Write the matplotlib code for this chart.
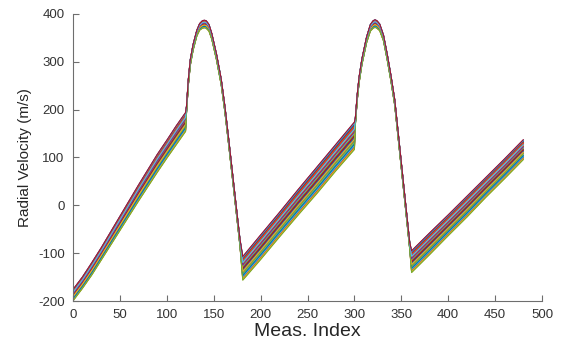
"""
Radial velocity of every run against measurement index.
Run: python3 plot.py
"""

import numpy as np
import matplotlib.pyplot as plt

plt.rcParams["font.family"] = ["Liberation Sans", "DejaVu Sans"]
plt.rcParams["axes.unicode_minus"] = False

# ── Data ─────────────────────────────────────────────────────────────────────
# measurement index of the key points
meas_idx = [0, 10, 20, 30, 40, 50, 60, 70, 80, 90, 100, 110, 120,
            121, 123, 125, 128, 132, 135, 138, 140, 142, 145, 148, 153, 158, 162, 166, 170, 174, 178,
            181, 200, 220, 240, 260, 280, 300,
            301, 303, 305, 308, 313, 317, 320, 322, 324, 327, 331, 335, 339, 343, 347, 351, 355, 359,
            361, 380, 400, 420, 440, 460, 480]
# middle of the bundle of runs (m/s)
vel_mid = [-188, -162, -133, -102, -70, -38, -6, 26, 57, 88, 117, 146, 174,
           200, 258, 298, 330, 360, 373, 378, 379, 378, 371, 353, 310, 258, 200, 132, 62, -8, -78,
           -132, -88, -41, 6, 52, 99, 145,
           175, 225, 262, 300, 346, 371, 378, 380, 378, 372, 350, 310, 265, 215, 140, 65, -10, -85,
           -118, -81, -42, -3, 37, 76, 116]
# half height of the bundle (m/s)
vel_half = [12, 12, 13, 13, 14, 15, 16, 17, 18, 19, 19, 20, 20,
            7, 6, 6, 6, 6, 7, 8, 8, 8, 7, 6, 6, 6, 6, 6, 6, 6, 7,
            25, 26, 26, 27, 28, 28, 29,
            7, 6, 6, 6, 6, 7, 8, 8, 8, 7, 6, 6, 6, 6, 6, 6, 6, 7,
            23, 23, 22, 22, 21, 21, 21]
# where each run sits in the bundle (-1 bottom, +1 top)
run_pos = [0.92, -0.35, 0.15, -0.88, 0.55, -0.10, 0.70, -0.62, 0.30, -0.95, 0.05,
           0.80, -0.45, 0.40, -0.75, 0.62, -0.20, 0.98, -0.55, 0.22, -0.05, 0.85,
           -0.80, 0.45, -0.30, 0.10, -0.68, 0.75, -0.15, 0.35, -0.90, 0.58, -0.40,
           0.95, 0.00, -0.60, 0.68, -0.25, 0.28, -0.98, 0.50, 1.00]

matlab_colors = ["#0072BD", "#D95319", "#EDB120", "#7E2F8E",
                 "#77AC30", "#4DBEEE", "#A2142F"]

# ── Figure ───────────────────────────────────────────────────────────────────
fig = plt.figure(figsize=(5.63, 3.41), dpi=100)
ax = fig.add_axes([73 / 563, 40 / 341, 469 / 563, 287 / 341])
ax.set_prop_cycle(color=matlab_colors)

mid = np.array(vel_mid, dtype=float)
half = np.array(vel_half, dtype=float)
for p in run_pos:
    ax.plot(meas_idx, mid + p * half, lw=0.8)

ax.set_xlim(0, 500)
ax.set_ylim(-200, 400)
ax.set_xticks(range(0, 501, 50))
ax.set_yticks(range(-200, 401, 100))

for side in ["top", "right"]:
    ax.spines[side].set_visible(False)
for side in ["left", "bottom"]:
    ax.spines[side].set_color("#6e6e6e")
    ax.spines[side].set_linewidth(0.8)
ax.tick_params(direction="in", length=4, width=0.8, color="#6e6e6e",
               labelsize=9.5, labelcolor="#333333", pad=6)

ax.set_xlabel("Meas. Index", fontsize=14, color="#262626", labelpad=1)
ax.set_ylabel("Radial Velocity (m/s)", fontsize=11, color="#262626", labelpad=4)

fig.savefig("out.png", dpi=100, facecolor="white")
